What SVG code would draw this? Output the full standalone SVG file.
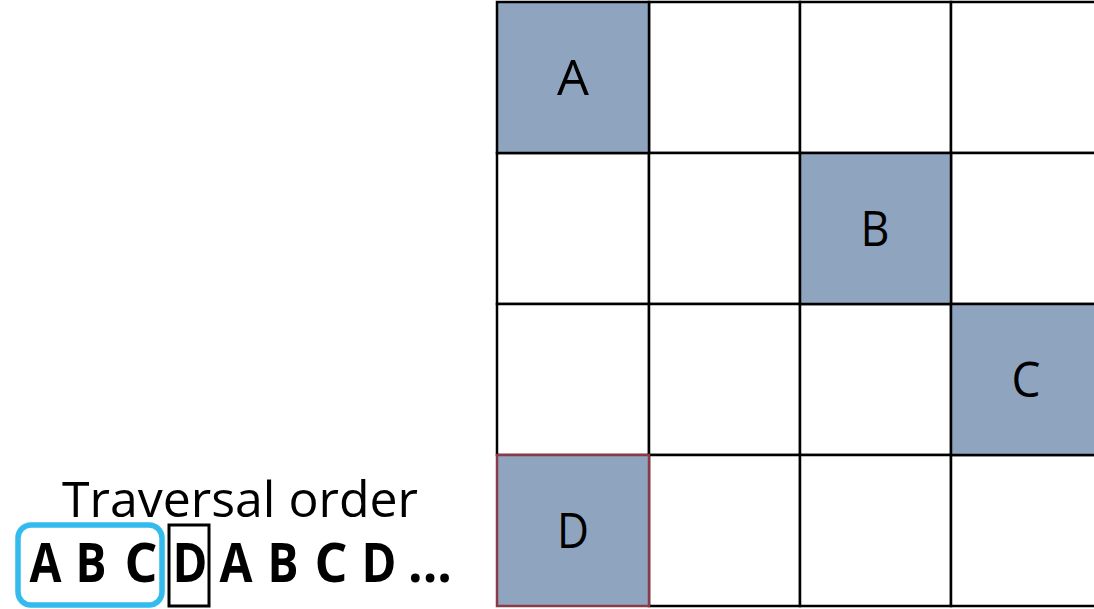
<svg xmlns="http://www.w3.org/2000/svg" width="1094" height="609" viewBox="0 0 1094 609">
<style>
.cell{fill:#ffffff;stroke:#000;stroke-width:2.5}
.hl{fill:#8FA5BF;stroke:#000;stroke-width:2.5}
.lbl{font-family:"Open Sans","Liberation Sans",sans-serif;font-size:50px;fill:#000;text-anchor:middle}
.seq{font-family:"Open Sans","Liberation Sans",sans-serif;font-size:54px;font-weight:bold;fill:#000;text-anchor:middle}
</style>
<rect width="1094" height="609" fill="#fff"/>
<g id="grid">
<rect class="cell" x="649" y="2" width="151" height="151"/>
<rect class="cell" x="800" y="2" width="151" height="151"/>
<rect class="cell" x="951" y="2" width="151" height="151"/>
<rect class="cell" x="497" y="153" width="152" height="151"/>
<rect class="cell" x="649" y="153" width="151" height="151"/>
<rect class="cell" x="951" y="153" width="151" height="151"/>
<rect class="cell" x="497" y="304" width="152" height="151"/>
<rect class="cell" x="649" y="304" width="151" height="151"/>
<rect class="cell" x="800" y="304" width="151" height="151"/>
<rect class="cell" x="649" y="455" width="151" height="151"/>
<rect class="cell" x="800" y="455" width="151" height="151"/>
<rect class="cell" x="951" y="455" width="151" height="151"/>
</g>
<g id="nodeA"><rect class="hl" x="497" y="2" width="152" height="151"/><text class="lbl" x="573" y="95" textLength="32" lengthAdjust="spacingAndGlyphs">A</text></g>
<g id="nodeB"><rect class="hl" x="800" y="153" width="151" height="151"/><text class="lbl" x="875" y="246" textLength="29" lengthAdjust="spacingAndGlyphs">B</text></g>
<g id="nodeC"><rect class="hl" x="951" y="304" width="151" height="151"/><text class="lbl" x="1026" y="397" textLength="29" lengthAdjust="spacingAndGlyphs">C</text></g>
<g id="nodeD"><rect x="497" y="455" width="152" height="151" fill="#8FA5BF" stroke="#8B3A4A" stroke-width="2.5"/><text class="lbl" x="573" y="548" textLength="32" lengthAdjust="spacingAndGlyphs">D</text></g>
<g id="legend">
<text x="240" y="517" font-family="Open Sans, Liberation Sans, sans-serif" font-size="49" text-anchor="middle" textLength="356" lengthAdjust="spacingAndGlyphs">Traversal order</text>
<rect x="18" y="525" width="144" height="80" rx="13" fill="none" stroke="#33BBEE" stroke-width="5.5"/>
<rect x="169" y="525" width="40" height="81" fill="none" stroke="#000" stroke-width="3"/>
<text class="seq" x="45.5" y="582" textLength="32" lengthAdjust="spacingAndGlyphs">A</text>
<text class="seq" x="91" y="582" textLength="31" lengthAdjust="spacingAndGlyphs">B</text>
<text class="seq" x="141" y="582" textLength="33" lengthAdjust="spacingAndGlyphs">C</text>
<text class="seq" x="190" y="582" textLength="35" lengthAdjust="spacingAndGlyphs">D</text>
<text class="seq" x="236" y="582" textLength="33" lengthAdjust="spacingAndGlyphs">A</text>
<text class="seq" x="283" y="582" textLength="31" lengthAdjust="spacingAndGlyphs">B</text>
<text class="seq" x="331" y="582" textLength="33" lengthAdjust="spacingAndGlyphs">C</text>
<text class="seq" x="379" y="582" textLength="35" lengthAdjust="spacingAndGlyphs">D</text>
<text class="seq" x="430" y="582" textLength="44" lengthAdjust="spacingAndGlyphs">...</text>
</g>
</svg>
